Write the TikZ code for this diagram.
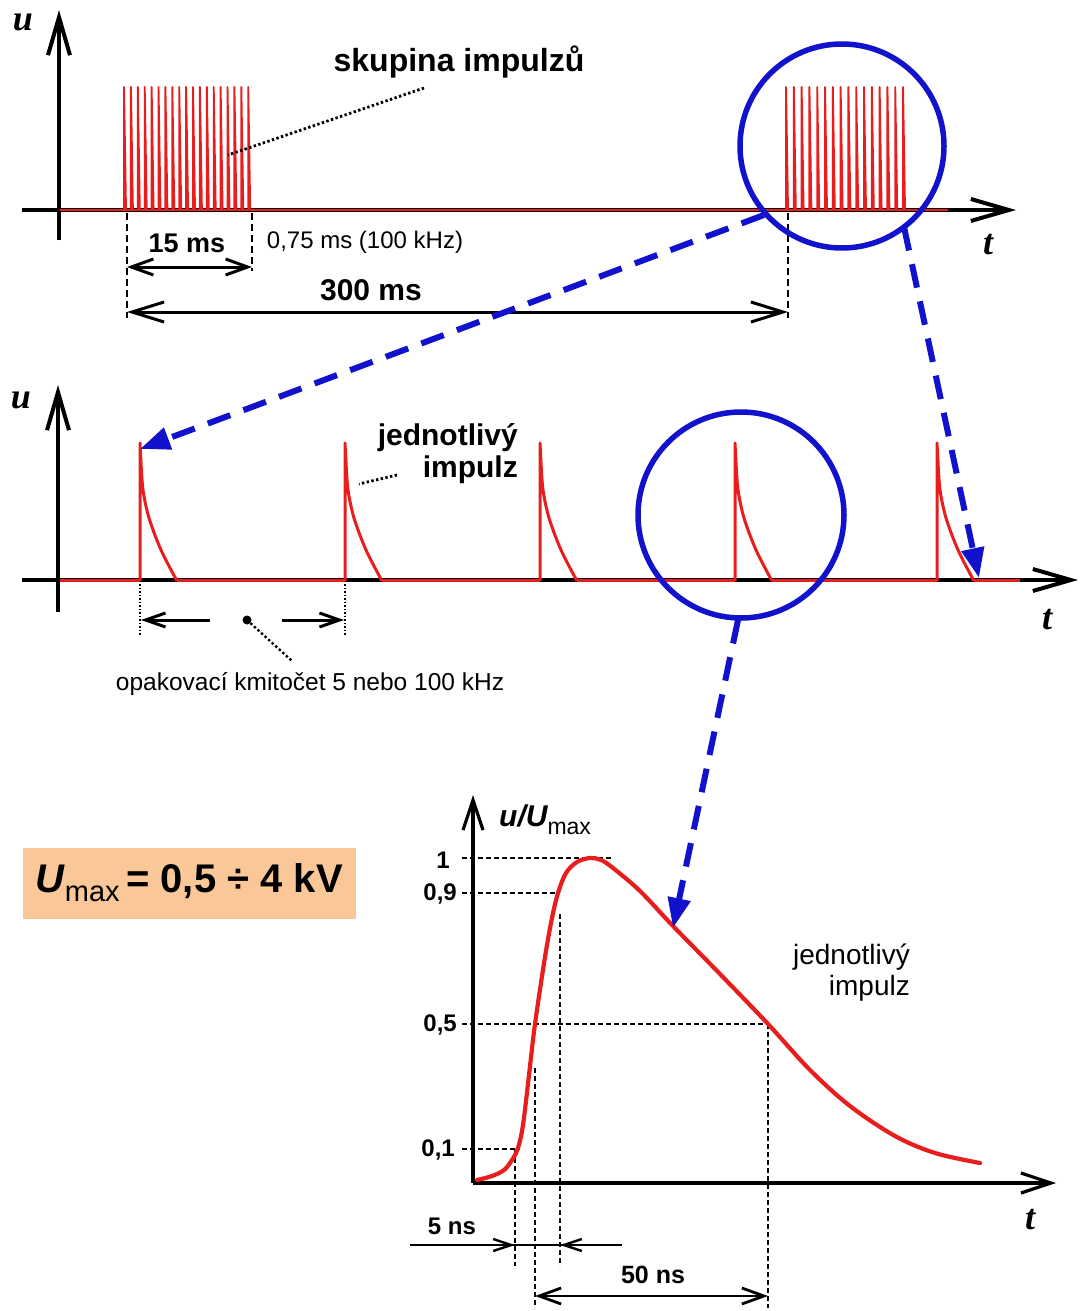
\documentclass[tikz,border=0pt]{standalone}
\usepackage{fontspec}
\setmainfont{Liberation Sans}
\newfontfamily\tserif{Liberation Serif}
\usetikzlibrary{arrows.meta}
\definecolor{pulsered}{RGB}{232,30,30}
\definecolor{zoomblue}{RGB}{18,18,205}
\definecolor{peach}{RGB}{250,200,152}
\newcommand{\fs}[1]{\fontsize{#1}{#1}\selectfont}
\begin{document}
\begin{tikzpicture}[x=1pt,y=-1pt,
  axisline/.style={line width=4pt,-{Straight Barb[length=38pt,width=22pt]}},
  axisthin/.style={line width=3.2pt,-{Straight Barb[length=30pt,width=20pt]}},
  dimarrow/.style={line width=3pt,{Straight Barb[length=22pt,width=16pt]}-{Straight Barb[length=22pt,width=16pt]}},
  bigdim/.style={line width=3pt,{Straight Barb[length=32pt,width=20pt]}-{Straight Barb[length=32pt,width=20pt]}},
  onearrow/.style={line width=3pt,-{Straight Barb[length=20pt,width=14pt]}},
  smallarrow/.style={line width=2.4pt,-{Straight Barb[length=18pt,width=12pt]}},
  blackdash/.style={line width=2.8pt,dash pattern=on 7pt off 4pt},
  griddash/.style={line width=2pt,dash pattern=on 5pt off 3pt},
  thindot/.style={line width=1.8pt,dash pattern=on 1.5pt off 2pt},
  leader/.style={line width=2.8pt,dash pattern=on 2.4pt off 2.4pt},
  burst/.style={pulsered,line width=1.9pt,line join=round},
  pulse/.style={pulsered,line width=3pt,line join=round},
  zoomring/.style={zoomblue,line width=5.5pt},
  zoomlink/.style={zoomblue,line width=6pt,dash pattern=on 24pt off 14pt,-{Triangle[length=30pt,width=22pt]}},
  lbl/.style={inner sep=0pt},
  axlbl/.style={inner sep=0pt,font=\tserif\bfseries\itshape\fs{36}}
]
\useasboundingbox (0,0) rectangle (1079,1311);

% ================= TOP PLOT =================
\coordinate (t-ybot) at (59,240);
\coordinate (t-ytop) at (59,10);
\coordinate (t-xleft) at (22,210);
\coordinate (t-xright) at (1016,210);
\draw[axisline] (t-ybot) -- (t-ytop);
\draw[axisline] (t-xleft) -- (t-xright);
\coordinate (t-red0) at (60,210);
\coordinate (t-red1) at (948,210);
\draw[pulsered,line width=2.8pt] (t-red0) -- (t-red1);
\node[axlbl] (t-u) at (23,22) {u};
\node[axlbl] (t-t) at (988,245) {t};
% bursts
\foreach \i in {0,...,18}{
  \pgfmathsetmacro\xx{124+\i*6.9}
  \draw[burst] (\xx,210) -- ++(0,-123) -- ++(2,123);
}
\foreach \i in {0,...,15}{
  \pgfmathsetmacro\xx{786+\i*7.8}
  \draw[burst] (\xx,210) -- ++(0,-123) -- ++(2,123);
}
\node[lbl,font=\bfseries\fs{32}] (skup) at (459,62) {skupina impulzů};
\coordinate (skup-a) at (424,88);
\coordinate (skup-b) at (228,155);
\draw[leader] (skup-a) -- (skup-b);
% dimensions
\coordinate (d1t) at (127,213); \coordinate (d1b) at (127,318);
\coordinate (d2t) at (252,213); \coordinate (d2b) at (252,271);
\coordinate (d3t) at (788,213); \coordinate (d3b) at (788,318);
\draw[blackdash] (d1t) -- (d1b);
\draw[blackdash] (d2t) -- (d2b);
\draw[blackdash] (d3t) -- (d3b);
\coordinate (a15l) at (127,267); \coordinate (a15r) at (252,267);
\draw[dimarrow] (a15l) -- (a15r);
\coordinate (a300l) at (127,312); \coordinate (a300r) at (788,312);
\draw[bigdim] (a300l) -- (a300r);
\node[lbl,font=\bfseries\fs{27}] (l15) at (187,243) {15 ms};
\node[lbl,font=\fs{24}] (l075) at (365,242) {0,75 ms (100 kHz)};
\node[lbl,font=\bfseries\fs{30}] (l300) at (371,290) {300 ms};
% zoom ring 1
\node[zoomring,draw,circle,minimum size=204pt,inner sep=0pt] (ring1) at (842,146) {};

% ================= MIDDLE PLOT =================
\coordinate (m-ybot) at (58,612);
\coordinate (m-ytop) at (58,385);
\coordinate (m-xleft) at (22,580);
\coordinate (m-xright) at (1078,580);
\draw[axisline] (m-ybot) -- (m-ytop);
\draw[axisline] (m-xleft) -- (m-xright);
\node[axlbl] (m-u) at (21,400) {u};
\node[axlbl] (m-t) at (1047,620) {t};
\draw[pulsered,line width=3pt] (60,580) -- (140,580);
\draw[pulsered,line width=3pt] (177,580) -- (345,580);
\draw[pulsered,line width=3pt] (382,580) -- (540,580);
\draw[pulsered,line width=3pt] (577,580) -- (735,580);
\draw[pulsered,line width=3pt] (772,580) -- (937,580);
\draw[pulsered,line width=3pt] (974,580) -- (1020,580);
\foreach \s in {140,345,540,735,937}{
  \draw[pulse] (\s,581) -- (\s,443) -- plot[smooth] coordinates {(\s+1,462) (\s+3,490) (\s+9,518) (\s+21,550) (\s+37,581)};
}
\node[lbl,font=\bfseries\fs{30},anchor=east] (m-imp1) at (518,438) {jednotlivý};
\node[lbl,font=\bfseries\fs{30},anchor=east] (m-imp2) at (518,470) {impulz};
\coordinate (mimp-a) at (397,475); \coordinate (mimp-b) at (359,484);
\draw[leader] (mimp-a) -- (mimp-b);
% repetition dimension
\coordinate (rp1t) at (140,584); \coordinate (rp1b) at (140,635);
\coordinate (rp2t) at (345,584); \coordinate (rp2b) at (345,635);
\draw[thindot] (rp1t) -- (rp1b);
\draw[thindot] (rp2t) -- (rp2b);
\coordinate (rpl0) at (210,620); \coordinate (rpl1) at (141,620);
\coordinate (rpr0) at (282,620); \coordinate (rpr1) at (344,620);
\draw[onearrow] (rpl0) -- (rpl1);
\draw[onearrow] (rpr0) -- (rpr1);
\node[circle,fill=black,inner sep=0pt,minimum size=9pt] (rpdot) at (247,620) {};
\coordinate (rpend) at (292,661);
\draw[leader,line width=2.4pt] (rpdot) -- (rpend);
\node[lbl,font=\fs{24.5}] (opak) at (310,684) {opakovací kmitočet 5 nebo 100 kHz};
% zoom ring 2
\node[zoomring,draw,circle,minimum size=206pt,inner sep=0pt] (ring2) at (741,515) {};

% ================= BOTTOM PLOT =================
\coordinate (b-o) at (473,1183);
\coordinate (b-ytop) at (473,795);
\coordinate (b-xright) at (1056,1183);
\draw[axisthin] (b-o) -- (b-ytop);
\draw[axisthin] (b-o) -- (b-xright);
\node[axlbl] (b-t) at (1030,1220) {t};
\node[lbl,anchor=west] (b-ylab) at (499,820) {\bfseries\itshape\fs{30}u/U\raisebox{-8pt}{\normalfont\fs{23}max}};
% levels
\coordinate (lv1) at (462,858);  \coordinate (lv1e) at (612,858);
\coordinate (lv9) at (462,893);  \coordinate (lv9e) at (556,893);
\coordinate (lv5) at (462,1024); \coordinate (lv5e) at (768,1024);
\coordinate (lv0) at (462,1149); \coordinate (lv0e) at (520,1149);
\draw[griddash] (lv1) -- (lv1e);
\draw[griddash] (lv9) -- (lv9e);
\draw[griddash] (lv5) -- (lv5e);
\draw[griddash] (lv0) -- (lv0e);
\node[lbl,anchor=east,font=\bfseries\fs{24}] (tk1) at (450,860) {1};
\node[lbl,anchor=east,font=\bfseries\fs{24}] (tk9) at (457,894) {0,9};
\node[lbl,anchor=east,font=\bfseries\fs{24}] (tk5) at (457,1025) {0,5};
\node[lbl,anchor=east,font=\bfseries\fs{24}] (tk0) at (455,1150) {0,1};
% verticals
\coordinate (v1t) at (515,1150); \coordinate (v1b) at (515,1266);
\coordinate (v2t) at (535,1068); \coordinate (v2b) at (535,1308);
\coordinate (v3t) at (560,914);  \coordinate (v3b) at (560,1266);
\coordinate (v4t) at (768,1024); \coordinate (v4b) at (768,1308);
\draw[griddash] (v1t) -- (v1b);
\draw[griddash] (v2t) -- (v2b);
\draw[griddash] (v3t) -- (v3b);
\draw[griddash] (v4t) -- (v4b);
% curve
\draw[pulsered,line width=4.2pt,line cap=round] plot[smooth,tension=0.55] coordinates {
 (477,1180) (492,1176) (504,1170) (512,1160) (518,1148) (523,1125) (529,1075) (535,1024)
 (545,957) (552,918) (558,893) (566,873) (577,862) (590,858) (601,860) (613,868)
 (640,891) (673,926) (720,974) (768,1024) (810,1070) (850,1106) (895,1136) (935,1153) (980,1163)};
% 5 ns
\coordinate (ns5a) at (410,1245); \coordinate (ns5b) at (622,1245);
\coordinate (ns5r) at (515,1245); \coordinate (ns5l) at (560,1245);
\draw[line width=2.4pt] (ns5a) -- (ns5b);
\draw[smallarrow] (ns5a) -- (ns5r);
\draw[smallarrow] (ns5b) -- (ns5l);
\node[lbl,font=\bfseries\fs{24}] (l5ns) at (452,1226) {5 ns};
% 50 ns
\coordinate (ns50l) at (535,1296); \coordinate (ns50r) at (768,1296);
\draw[dimarrow,line width=2.8pt] (ns50l) -- (ns50r);
\node[lbl,font=\bfseries\fs{25}] (l50ns) at (653,1275) {50 ns};
\node[lbl,font=\fs{28},anchor=east] (b-imp1) at (910,957) {jednotlivý};
\node[lbl,font=\fs{28},anchor=east] (b-imp2) at (910,988) {impulz};

% ================= Umax box =================
\node[fill=peach,minimum width=333pt,minimum height=71pt,inner sep=0pt] (umax) at (189,883)
 {\bfseries\fs{40}\textit{U}\raisebox{-9pt}{\normalfont\fs{29}max}\,= 0,5 ÷ 4 kV};

% ================= zoom links =================
\coordinate (z1s) at (764,215); \coordinate (z1e) at (140,449);
\draw[zoomlink] (z1s) -- (z1e);
\coordinate (z2s) at (904,227); \coordinate (z2e) at (979,578);
\draw[zoomlink] (z2s) -- (z2e);
\coordinate (z3s) at (738,620); \coordinate (z3e) at (673,928);
\draw[zoomlink] (z3s) -- (z3e);
\end{tikzpicture}
\end{document}
